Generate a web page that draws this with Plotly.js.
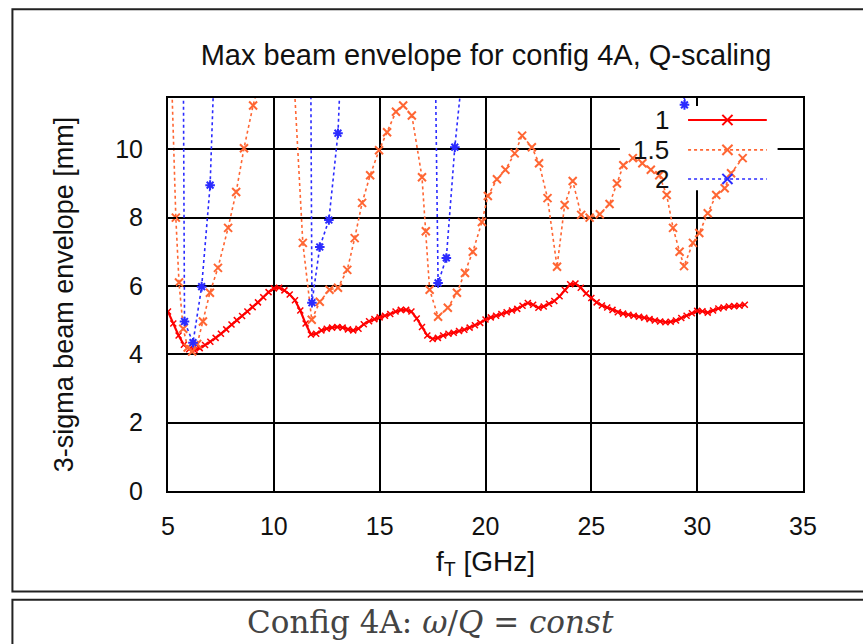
<!DOCTYPE html>
<html>
<head>
<meta charset="utf-8">
<script src="https://cdn.plot.ly/plotly-3.0.1.min.js"></script>
<style>
  html, body { margin: 0; padding: 0; background: #fff; }
  #chart { width: 863px; height: 644px; }
</style>
</head>
<body>
<div id="chart"></div>
<script>
// Scaling factor 1: max envelope vs transverse frequency
const freq1 = [5.0,5.25,5.5,5.75,6.0,6.25,6.5,6.75,7.0,7.25,7.5,7.75,8.0,8.25,8.5,8.75,9.0,9.25,9.5,9.75,
  10.0,10.25,10.5,10.75,11.0,11.25,11.5,11.75,12.0,12.25,12.5,12.75,13.0,13.25,13.5,13.75,14.0,14.25,14.5,14.75,
  15.0,15.25,15.5,15.75,16.0,16.25,16.5,16.75,17.0,17.25,17.5,17.75,18.0,18.25,18.5,18.75,19.0,19.25,19.5,19.75,
  20.0,20.25,20.5,20.75,21.0,21.25,21.5,21.75,22.0,22.25,22.5,22.75,23.0,23.25,23.5,23.75,24.0,24.25,24.5,24.75,
  25.0,25.25,25.5,25.75,26.0,26.25,26.5,26.75,27.0,27.25,27.5,27.75,28.0,28.25,28.5,28.75,29.0,29.25,29.5,29.75,
  30.0,30.25,30.5,30.75,31.0,31.25,31.5,31.75,32.0,32.25];
const env1 = [5.25,4.9,4.55,4.28,4.15,4.12,4.18,4.27,4.37,4.48,4.6,4.73,4.87,5.0,5.12,5.25,5.38,5.52,5.67,5.82,
  5.93,5.95,5.87,5.75,5.58,5.28,4.9,4.58,4.6,4.7,4.75,4.78,4.8,4.78,4.73,4.7,4.75,4.88,4.97,5.03,
  5.08,5.13,5.18,5.25,5.3,5.3,5.25,5.05,4.8,4.55,4.45,4.48,4.55,4.6,4.63,4.68,4.72,4.78,4.85,4.92,
  5.02,5.08,5.13,5.18,5.23,5.28,5.33,5.42,5.5,5.45,5.36,5.4,5.48,5.56,5.7,5.88,6.05,6.07,5.95,5.78,
  5.65,5.52,5.43,5.37,5.3,5.23,5.19,5.16,5.13,5.1,5.07,5.03,4.99,4.96,4.94,4.95,4.99,5.06,5.13,5.2,
  5.27,5.26,5.22,5.28,5.34,5.37,5.4,5.41,5.42,5.45];

// Scaling factor 1.5 (values above the y range run off the top of the plot)
const freq15 = [5.15,5.37,5.52,5.72,5.93,6.14,6.38,6.65,6.98,7.36,7.84,8.22,8.59,9.02,9.4,
  10.92,11.37,11.79,12.17,12.63,13.03,13.47,13.82,14.17,14.55,14.97,15.35,15.77,16.11,16.52,17.0,17.18,17.36,
  17.76,18.22,18.65,19.03,19.4,19.83,20.11,20.54,20.94,21.38,21.73,22.19,22.53,22.93,23.38,23.74,24.12,
  24.52,24.92,25.4,25.86,26.21,26.51,26.96,27.41,27.81,28.21,28.56,28.86,29.17,29.38,29.8,30.1,30.5,
  30.9,31.3,31.6,32.15];
const env15 = [12.5,8.0,6.1,4.75,4.2,4.08,4.3,4.96,5.8,6.53,7.7,8.75,10.03,11.28,12.2,
  12.4,7.26,5.01,5.54,5.89,5.95,6.47,7.4,8.43,9.24,9.97,10.5,11.1,11.28,10.99,9.18,7.6,5.89,
  5.1,5.36,5.8,6.38,7.0,7.87,8.63,9.12,9.4,9.88,10.4,10.06,9.59,8.57,6.56,8.37,9.07,
  8.08,8.0,8.1,8.4,9.0,9.53,9.74,9.59,9.4,9.24,8.66,7.7,7.0,6.58,7.26,7.55,8.13,
  8.66,8.86,9.3,9.74];

// Scaling factor 2
const freq2 = [5.72,5.78,6.18,6.59,6.99,7.2,
  11.74,11.8,12.17,12.6,13.03,13.2,
  17.62,17.76,18.15,18.55,18.95,
  29.25,29.4,29.55];
const env2 = [13.0,4.96,4.34,5.98,8.95,12.75,
  13.0,5.51,7.14,7.93,10.47,13.0,
  13.0,6.09,6.82,10.06,12.5,
  13.0,11.3,13.0];

const seriesNames = ['1', '1.5', '2'];
const seriesColors = ['#ff0000', '#ff6633', '#2b2bff'];

const xTicks = [5, 10, 15, 20, 25, 30, 35];
const yTicks = [0, 2, 4, 6, 8, 10];

const FONT = 'Liberation Sans, Arial, sans-serif';

const traces = [
  {
    x: freq1, y: env1, name: seriesNames[0], type: 'scatter', mode: 'lines+markers',
    line: { color: seriesColors[0], width: 2.2 },
    marker: { symbol: 'x-thin-open', size: 6, line: { color: seriesColors[0], width: 1.5 } }
  },
  {
    x: freq15, y: env15, name: seriesNames[1], type: 'scatter', mode: 'lines+markers',
    line: { color: seriesColors[1], width: 1.6, dash: 'dot' },
    marker: { symbol: 'x-thin-open', size: 8, line: { color: seriesColors[1], width: 2 } }
  },
  {
    x: freq2, y: env2, name: seriesNames[2], type: 'scatter', mode: 'lines+markers',
    line: { color: seriesColors[2], width: 1.6, dash: 'dot' },
    marker: { symbol: 'asterisk-open', size: 8, line: { color: seriesColors[2], width: 2 } }
  }
];

// Key drawn gnuplot-style: label on the left, line sample on the right
const keyRows = [0.944, 0.868, 0.794];
const keyX0 = 0.819, keyX1 = 0.943, keyXm = 0.881, keyTextX = 0.792;
const shapes = [
  // blank area behind the key (hides grid only)
  { type: 'rect', xref: 'x', yref: 'y', x0: 26.35, x1: 33.8, y0: 8.8, y1: 11.5,
    fillcolor: '#ffffff', line: { width: 0 }, layer: 'between' },
  // outer frame and caption box (right side runs past the page edge)
  { type: 'rect', xref: 'paper', yref: 'paper', x0: -0.245, x1: 1.4, y0: -0.256, y1: 1.226,
    line: { color: '#222', width: 2 }, layer: 'below' },
  { type: 'rect', xref: 'paper', yref: 'paper', x0: -0.245, x1: 1.4, y0: -0.5, y1: -0.277,
    line: { color: '#222', width: 2 }, layer: 'below' }
];
const annotations = [];
const dashes = ['solid', 'dot', 'dot'];
const widths = [2.2, 1.6, 1.6];
keyRows.forEach((ry, i) => {
  shapes.push({ type: 'line', xref: 'paper', yref: 'paper', x0: keyX0, x1: keyX1, y0: ry, y1: ry,
    line: { color: seriesColors[i], width: widths[i], dash: dashes[i] }, layer: 'above' });
  const dx = 0.008, dy = 0.013;
  shapes.push({ type: 'line', xref: 'paper', yref: 'paper', x0: keyXm - dx, x1: keyXm + dx, y0: ry - dy, y1: ry + dy,
    line: { color: seriesColors[i], width: 2 }, layer: 'above' });
  shapes.push({ type: 'line', xref: 'paper', yref: 'paper', x0: keyXm - dx, x1: keyXm + dx, y0: ry + dy, y1: ry - dy,
    line: { color: seriesColors[i], width: 2 }, layer: 'above' });
  annotations.push({ xref: 'paper', yref: 'paper', x: keyTextX, y: ry, xanchor: 'right', yanchor: 'middle',
    text: seriesNames[i], showarrow: false, font: { family: FONT, size: 26, color: '#111' } });
});

// caption below the figure
annotations.push({
  xref: 'paper', yref: 'paper', x: (430 - 168) / 635, y: (491 - 622) / 394, xanchor: 'center', yanchor: 'middle',
  text: 'Config 4A: <i>ω</i>/<i>Q</i> = <i>const</i>', showarrow: false,
  font: { family: 'DejaVu Serif, Liberation Serif, serif', size: 31, color: '#444' }
});

const layout = {
  width: 863, height: 644,
  margin: { l: 168, r: 60, t: 98, b: 153 },
  paper_bgcolor: '#ffffff', plot_bgcolor: '#ffffff',
  showlegend: false,
  font: { family: FONT, size: 25, color: '#111' },
  title: {
    text: 'Max beam envelope for config 4A, Q-scaling',
    x: 486 / 863, xanchor: 'center', xref: 'container',
    y: 1 - 55 / 644, yanchor: 'middle', yref: 'container',
    font: { family: FONT, size: 29, color: '#111' }
  },
  xaxis: {
    range: [5, 35], tickvals: xTicks, ticktext: xTicks.map(String),
    showgrid: true, gridcolor: '#000', gridwidth: 2, zeroline: false,
    showline: true, linecolor: '#000', linewidth: 2, mirror: 'allticks',
    ticks: 'inside', ticklen: 8, tickwidth: 2, tickcolor: '#000',
    ticklabelstandoff: 12,
    tickfont: { family: FONT, size: 25, color: '#111' },
    title: { text: 'f<sub>T</sub> [GHz]', standoff: 12, font: { family: FONT, size: 28, color: '#111' } }
  },
  yaxis: {
    range: [0, 11.5], tickvals: yTicks, ticktext: yTicks.map(String),
    showgrid: true, gridcolor: '#000', gridwidth: 2, zeroline: false,
    showline: true, linecolor: '#000', linewidth: 2, mirror: 'allticks',
    ticks: 'inside', ticklen: 8, tickwidth: 2, tickcolor: '#000',
    ticklabelstandoff: 18,
    tickfont: { family: FONT, size: 25, color: '#111' },
    title: { text: '3-sigma beam envelope [mm]', standoff: 34, font: { family: FONT, size: 27, color: '#111' } }
  },
  shapes: shapes,
  annotations: annotations
};

Plotly.newPlot('chart', traces, layout, { displayModeBar: false, staticPlot: true });
</script>
</body>
</html>
